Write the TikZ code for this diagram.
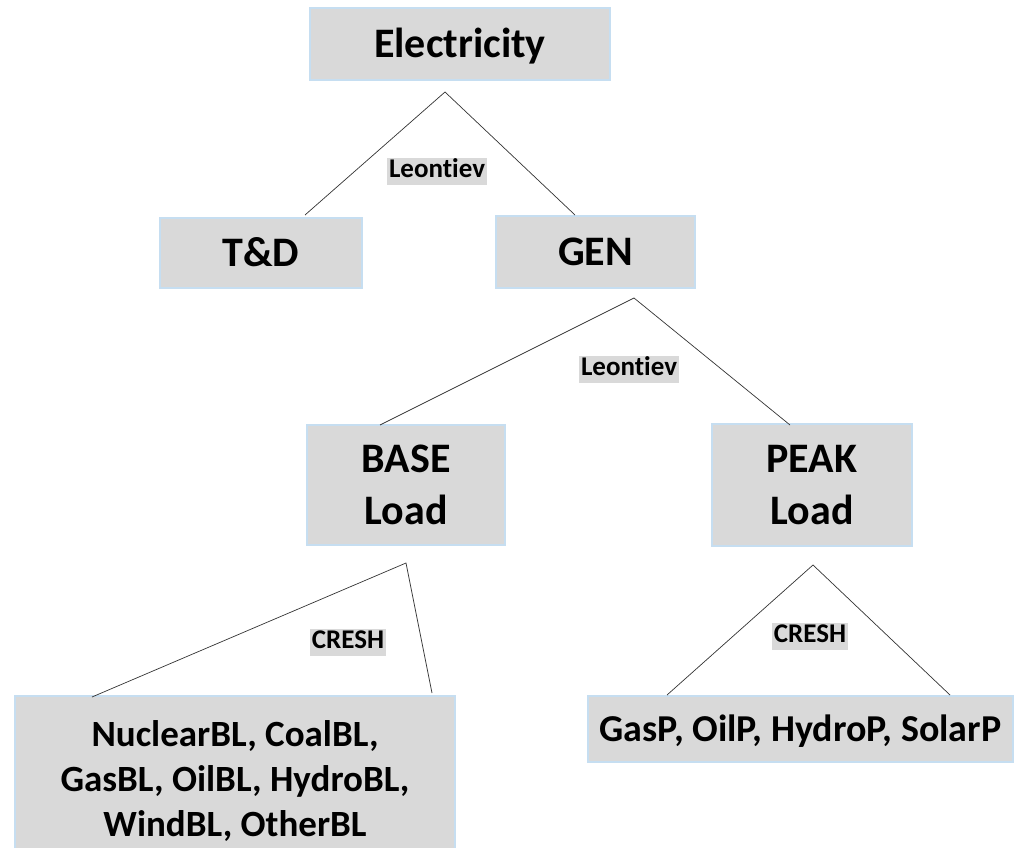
\documentclass[tikz,border=0pt]{standalone}
\usepackage{fontspec}
\setmainfont{Carlito}[Ligatures=NoCommon]
\definecolor{boxfill}{HTML}{D9D9D9}
\definecolor{boxline}{HTML}{C6DEF1}
\begin{document}
\begin{tikzpicture}[x=1pt,y=-1pt,
  box/.style={draw=boxline,line width=1.5pt,fill=boxfill,inner sep=0pt,align=center,
    font=\bfseries\fontsize{42}{52}\selectfont},
  onebox/.style={box,text height=27pt,text depth=0pt},
  smallbox/.style={box,font=\bfseries\fontsize{37}{45}\selectfont},
  lbl/.style={fill=boxfill,inner xsep=2pt,inner ysep=0pt,text height=20pt,text depth=7pt,
    font=\bfseries\fontsize{27}{30}\selectfont},
  conn/.style={draw=black!80,line width=0.7pt}]
\useasboundingbox (0,0) rectangle (1017,848);
\clip (0,0) rectangle (1017,848);
\node[onebox,minimum width=300pt,minimum height=72pt] (elec) at (460,44) {Electricity};
\node[onebox,minimum width=202pt,minimum height=70pt] (td) at (261,253) {T\&D};
\node[onebox,minimum width=199pt,minimum height=72pt] (gen) at (595.5,252) {GEN};
\node[box,minimum width=198pt,minimum height=120pt] (base) at (406,485) {BASE\\Load};
\node[box,minimum width=200pt,minimum height=122pt] (peak) at (812,485) {PEAK\\Load};
\node[smallbox,minimum width=440pt,minimum height=170pt] (nuc) at (235,781) {NuclearBL, CoalBL,\\GasBL, OilBL, HydroBL,\\WindBL, OtherBL};
\node[onebox,font=\bfseries\fontsize{38}{45}\selectfont,text height=25pt,minimum width=425pt,minimum height=66pt] (gasp) at (800.5,729) {GasP, OilP, HydroP, SolarP};
\coordinate (a1) at (445,92);
\coordinate (a1l) at (305,215);
\coordinate (a1r) at (575,215);
\coordinate (a2) at (634,298);
\coordinate (a2l) at (380,425);
\coordinate (a2r) at (790,425);
\coordinate (a3) at (406,563);
\coordinate (a3l) at (92,697);
\coordinate (a3r) at (432,693);
\coordinate (a4) at (813,565);
\coordinate (a4l) at (667,695);
\coordinate (a4r) at (950,695);
\draw[conn] (a1l) -- (a1) -- (a1r);
\draw[conn] (a2l) -- (a2) -- (a2r);
\draw[conn] (a3l) -- (a3) -- (a3r);
\draw[conn] (a4l) -- (a4) -- (a4r);
\node[lbl] (l1) at (437,171) {Leontiev};
\node[lbl] (l2) at (629,369) {Leontiev};
\node[lbl] (c1) at (348,642) {CRESH};
\node[lbl] (c2) at (810,636) {CRESH};
\end{tikzpicture}
\end{document}
